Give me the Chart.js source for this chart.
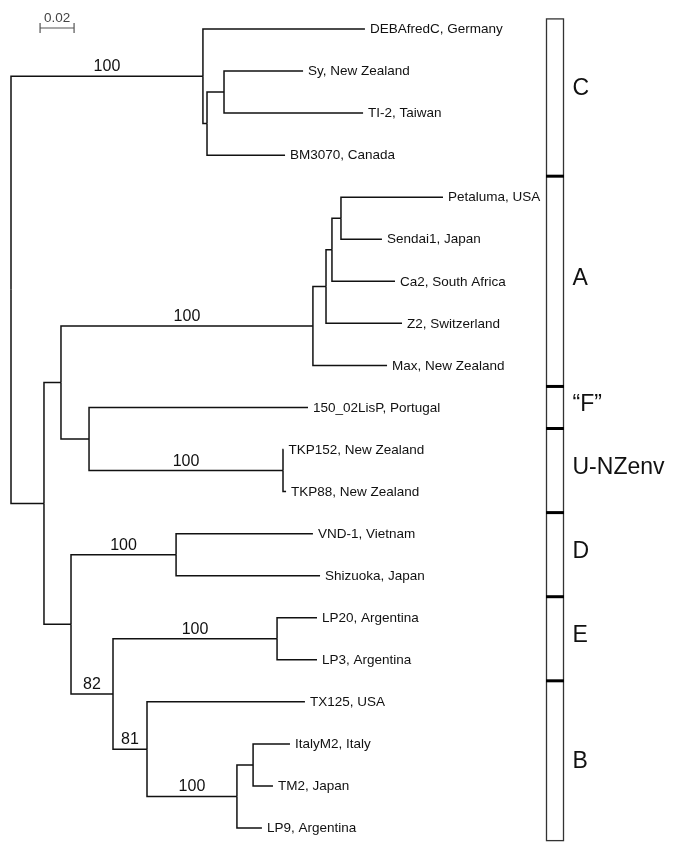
<!DOCTYPE html>
<html>
<head>
<meta charset="utf-8">
<script src="https://cdn.jsdelivr.net/npm/chart.js@4.4.1/dist/chart.umd.min.js"></script>
<style>
  html, body { margin: 0; padding: 0; background: #fff; }
  #wrap { width: 675px; height: 849px; position: relative; }
</style>
</head>
<body>
<div id="wrap"><canvas id="tree"></canvas></div>
<script>
// Tips, top to bottom (index = row)
const leafNames = [
  'DEBAfredC, Germany', 'Sy, New Zealand', 'TI-2, Taiwan', 'BM3070, Canada',
  'Petaluma, USA', 'Sendai1, Japan', 'Ca2, South Africa', 'Z2, Switzerland',
  'Max, New Zealand', '150_02LisP, Portugal', 'TKP152, New Zealand', 'TKP88, New Zealand',
  'VND-1, Vietnam', 'Shizuoka, Japan', 'LP20, Argentina', 'LP3, Argentina',
  'TX125, USA', 'ItalyM2, Italy', 'TM2, Japan', 'LP9, Argentina'
];
// distance from root
const leafDepths = [
  0.2082, 0.1718, 0.2071, 0.1612,
  0.2541, 0.2182, 0.2259, 0.2300,
  0.2212, 0.1747, 0.1603, 0.1618,
  0.1776, 0.1818, 0.1800, 0.1800,
  0.1729, 0.1641, 0.1541, 0.1476
];
const leafParents = [21, 23, 23, 22, 29, 29, 28, 27, 26, 30, 31, 31, 33, 33, 35, 35, 36, 38, 38, 37];

// internal nodes, numbered 20..38 (20 = root)
const nodeDepths = [
  0, 0.1129, 0.1153, 0.1253, 0.0194, 0.0294, 0.1776, 0.1853, 0.1888, 0.1941,
  0.0459, 0.1600, 0.0353, 0.0971, 0.0600, 0.1565, 0.0800, 0.1329, 0.1424
];
const nodeParents = [-1, 20, 21, 22, 20, 24, 25, 26, 27, 28, 25, 30, 24, 32, 32, 34, 34, 36, 37];

// bootstrap support
const supportNodes = [21, 26, 31, 33, 35, 34, 36, 37];
const supportValues = ['100', '100', '100', '100', '100', '82', '81', '100'];

// genotype bar
const cladeNames = ['C', 'A', '\u201cF\u201d', 'U-NZenv', 'D', 'E', 'B'];
const cladeFirst = [0, 4, 9, 10, 12, 14, 16];
const cladeLast = [3, 8, 9, 11, 13, 15, 19];

const scaleBarLength = 0.02;
const scaleBarLabel = '0.02';

const FONT = '"Liberation Sans", Arial, sans-serif';

// build tree
const depth = leafDepths.concat(nodeDepths);
const parent = leafParents.concat(nodeParents);
const children = depth.map(() => []);
parent.forEach((p, i) => { if (p >= 0) children[p].push(i); });

const rowY = [];
function placeNode(i) {
  if (i < leafNames.length) { rowY[i] = i; return i; }
  const ys = children[i].map(placeNode);
  rowY[i] = (Math.min(...ys) + Math.max(...ys)) / 2;
  return rowY[i];
}
placeNode(20);

const branchSets = [];
parent.forEach((p, i) => {
  if (p < 0) return;
  branchSets.push({
    data: [
      { x: depth[p], y: rowY[p] },
      { x: depth[p], y: rowY[i] },
      { x: depth[i], y: rowY[i] }
    ],
    showLine: true,
    borderColor: '#111',
    borderWidth: 1.5,
    pointRadius: 0,
    fill: false,
    clip: false
  });
});

const treeLabels = {
  id: 'treeLabels',
  afterDatasetsDraw(chart) {
    const { ctx, scales: { x, y } } = chart;
    ctx.save();

    // tip names
    ctx.fillStyle = '#111';
    ctx.font = '13.5px ' + FONT;
    ctx.textAlign = 'left';
    ctx.textBaseline = 'middle';
    leafNames.forEach((name, i) => {
      ctx.fillText(name, x.getPixelForValue(leafDepths[i]) + 5, y.getPixelForValue(i) + 0.5);
    });

    // support values above branches
    ctx.font = '16px ' + FONT;
    ctx.textAlign = 'center';
    ctx.textBaseline = 'alphabetic';
    supportNodes.forEach((n, k) => {
      const mid = (depth[parent[n]] + depth[n]) / 2;
      ctx.fillText(supportValues[k], x.getPixelForValue(mid), y.getPixelForValue(rowY[n]) - 5);
    });

    // scale bar
    const sx0 = x.getPixelForValue(0.0171);
    const sx1 = x.getPixelForValue(0.0171 + scaleBarLength);
    const sy = y.getPixelForValue(0) - 1;
    ctx.strokeStyle = '#555';
    ctx.lineWidth = 1.2;
    ctx.beginPath();
    ctx.moveTo(sx0, sy); ctx.lineTo(sx1, sy);
    ctx.moveTo(sx0, sy - 5); ctx.lineTo(sx0, sy + 5);
    ctx.moveTo(sx1, sy - 5); ctx.lineTo(sx1, sy + 5);
    ctx.stroke();
    ctx.fillStyle = '#444';
    ctx.font = '13.5px ' + FONT;
    ctx.fillText(scaleBarLabel, (sx0 + sx1) / 2, sy - 6);

    // clade bar
    const bx0 = chart.chartArea.right + 1.5;
    const bx1 = bx0 + 17;
    const top = y.getPixelForValue(-0.24);
    const bottom = y.getPixelForValue(19.3);
    ctx.strokeStyle = '#333';
    ctx.lineWidth = 1.3;
    ctx.strokeRect(bx0, top, bx1 - bx0, bottom - top);
    ctx.strokeStyle = '#000';
    ctx.lineWidth = 3;
    cladeLast.slice(0, -1).forEach(last => {
      const dy = y.getPixelForValue(last + 0.5);
      ctx.beginPath();
      ctx.moveTo(bx0 - 0.5, dy); ctx.lineTo(bx1 + 0.5, dy);
      ctx.stroke();
    });

    ctx.fillStyle = '#111';
    ctx.font = '23px ' + FONT;
    ctx.textAlign = 'left';
    ctx.textBaseline = 'middle';
    cladeNames.forEach((name, k) => {
      const mid = (cladeFirst[k] + cladeLast[k]) / 2;
      ctx.fillText(name, bx1 + 9, y.getPixelForValue(mid) - 3);
    });

    ctx.restore();
  }
};

new Chart(document.getElementById('tree'), {
  type: 'scatter',
  data: { datasets: branchSets },
  options: {
    responsive: true,
    maintainAspectRatio: false,
    animation: false,
    layout: { padding: { left: 11, right: 130, top: 29, bottom: 21 } },
    plugins: { legend: { display: false }, tooltip: { enabled: false } },
    scales: {
      x: { type: 'linear', display: false, min: 0, max: 534 / 1700 },
      y: { type: 'linear', display: false, min: 0, max: 19, reverse: true }
    }
  },
  plugins: [treeLabels]
});
</script>
</body>
</html>
